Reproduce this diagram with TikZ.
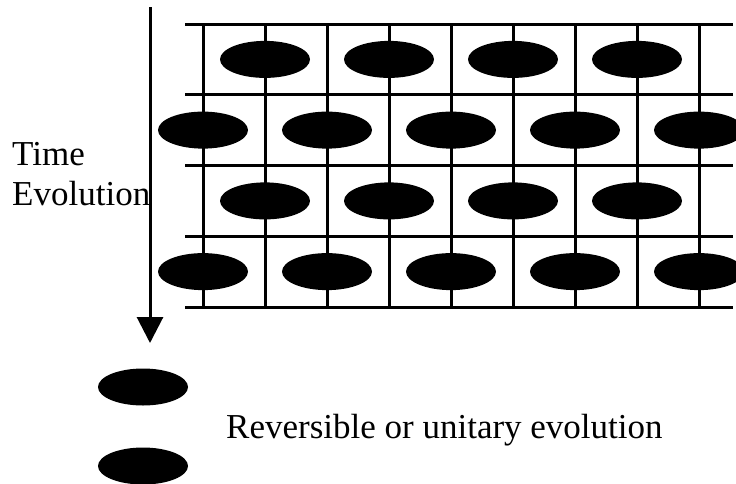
\documentclass[tikz,border=0pt]{standalone}
\usepackage{fontspec}
\setmainfont{Liberation Serif}
\usetikzlibrary{arrows.meta,shapes.geometric}
\begin{document}
\begin{tikzpicture}[x=1pt,y=-1pt,
  gridline/.style={line width=3pt},
  site/.style={ellipse,fill=black,draw=none,inner sep=0pt,
    minimum width=90pt,minimum height=37pt},
  label/.style={font=\fontsize{35}{40}\selectfont,inner sep=0pt},
  timearrow/.style={line width=3pt,-{Triangle[width=26pt,length=26pt]}}]
  \useasboundingbox (0,0) rectangle (736,483);
  \clip (0,0) rectangle (736,483);

  % lattice: five horizontal rails and nine vertical rails
  \foreach \k in {0,...,4}
    \draw[gridline] (185,{24+70.75*\k}) -- (733,{24+70.75*\k});
  \foreach \k in {0,...,8}
    \draw[gridline] ({203+62*\k},24) -- ({203+62*\k},307);

  % particles, staggered from row to row
  \foreach \r/\y in {1/59.4,3/200.9}
    \foreach \k in {0,...,3}
      \node[site] (p\r-\k) at ({265+124*\k},\y) {};
  \foreach \r/\y in {2/130.1,4/271.6}
    \foreach \k in {0,...,4}
      \node[site] (p\r-\k) at ({203+124*\k},\y) {};

  % time axis
  \coordinate (tstart) at (150,7);
  \coordinate (tend) at (150,343);
  \draw[timearrow] (tstart) -- (tend);
  \node[label,anchor=base west] (time) at (12,165) {Time};
  \node[label,anchor=base west] (evol) at (12,205) {Evolution};

  % legend
  \node[site] (legA) at (143,387) {};
  \node[site] (legB) at (143,466) {};
  \node[label,anchor=base west] (legtext) at (226,438) {Reversible or unitary evolution};
\end{tikzpicture}
\end{document}
